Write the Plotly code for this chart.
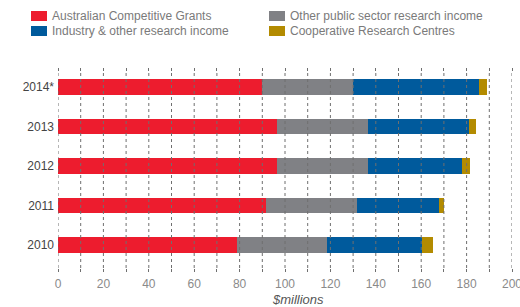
import plotly.graph_objects as go

years = ["2010", "2011", "2012", "2013", "2014*"]
series_names = [
    "Australian Competitive Grants",
    "Other public sector research income",
    "Industry & other research income",
    "Cooperative Research Centres",
]
acg = [79.0, 91.5, 96.3, 96.3, 90.0]
other_public = [39.4, 40.4, 40.1, 40.1, 39.8]
industry = [41.8, 35.8, 41.4, 44.5, 55.5]
crc = [4.8, 2.5, 3.6, 3.1, 3.5]
colors = ["#ED1C2E", "#808185", "#005A9C", "#B38B00"]
x_ticks = list(range(0, 201, 20))
grid_vals = list(range(0, 201, 10))

values = [acg, other_public, industry, crc]

fig = go.Figure()
for name, vals, col in zip(series_names, values, colors):
    fig.add_trace(go.Bar(
        y=years, x=vals, name=name, orientation="h",
        marker=dict(color=col, line=dict(width=0)),
        width=0.4, showlegend=False,
    ))

# dashed grid lines drawn above the bars
shapes = []
for v in grid_vals:
    shapes.append(dict(type="line", xref="x", yref="paper", x0=v, x1=v, y0=0, y1=1,
                       line=dict(color="#6f6f6f", width=1, dash="dot"), layer="above"))

# manual legend
W, H, L, T = 454.0, 196.0, 58.0, 72.0
def px_x(p):
    return (p - L) / W
def px_y(p):
    return (T + H - p) / H

annotations = []
legend_pos = [(31, 11), (269, 11), (31, 26), (269, 26)]
for (name, col, (sx, sy)) in zip(series_names, colors, legend_pos):
    shapes.append(dict(type="rect", xref="paper", yref="paper",
                       x0=px_x(sx), x1=px_x(sx + 16), y0=px_y(sy + 10), y1=px_y(sy),
                       fillcolor=col, line=dict(width=0)))
    annotations.append(dict(xref="paper", yref="paper", x=px_x(sx + 19), y=px_y(sy + 5),
                            text=name, showarrow=False, xanchor="left", yanchor="middle",
                            font=dict(size=12, color="#7a7a7a")))

annotations.append(dict(xref="paper", yref="paper", x=px_x(298), y=px_y(299),
                        text="<i>$millions</i>", showarrow=False, xanchor="center",
                        yanchor="middle", font=dict(size=13, color="#555555")))

fig.update_layout(
    width=520, height=307,
    margin=dict(l=58, r=8, t=72, b=39),
    barmode="stack",
    plot_bgcolor="white", paper_bgcolor="white",
    font=dict(family="Liberation Sans, Arial, sans-serif"),
    shapes=shapes, annotations=annotations,
    xaxis=dict(range=[0, 200], tickvals=x_ticks, showgrid=False, zeroline=False,
               ticks="outside", ticklen=3, tickcolor="#6f6f6f", mirror="ticks",
               minor=dict(tickvals=grid_vals, ticks="outside", ticklen=3, tickcolor="#6f6f6f"),
               ticklabelstandoff=2, ticklabeloverflow="allow",
               tickfont=dict(size=12, color="#8a8a8a"), showline=False,
               automargin=False, fixedrange=True),
    yaxis=dict(range=[-0.58, 4.38], showgrid=False, zeroline=False, ticks="",
               tickfont=dict(size=12, color="#444444"), ticklabelstandoff=3,
               showline=False, automargin=False, fixedrange=True),
)

fig.write_html("out.html", config={"displayModeBar": False},
               post_script="document.body.style.margin='0px';")
